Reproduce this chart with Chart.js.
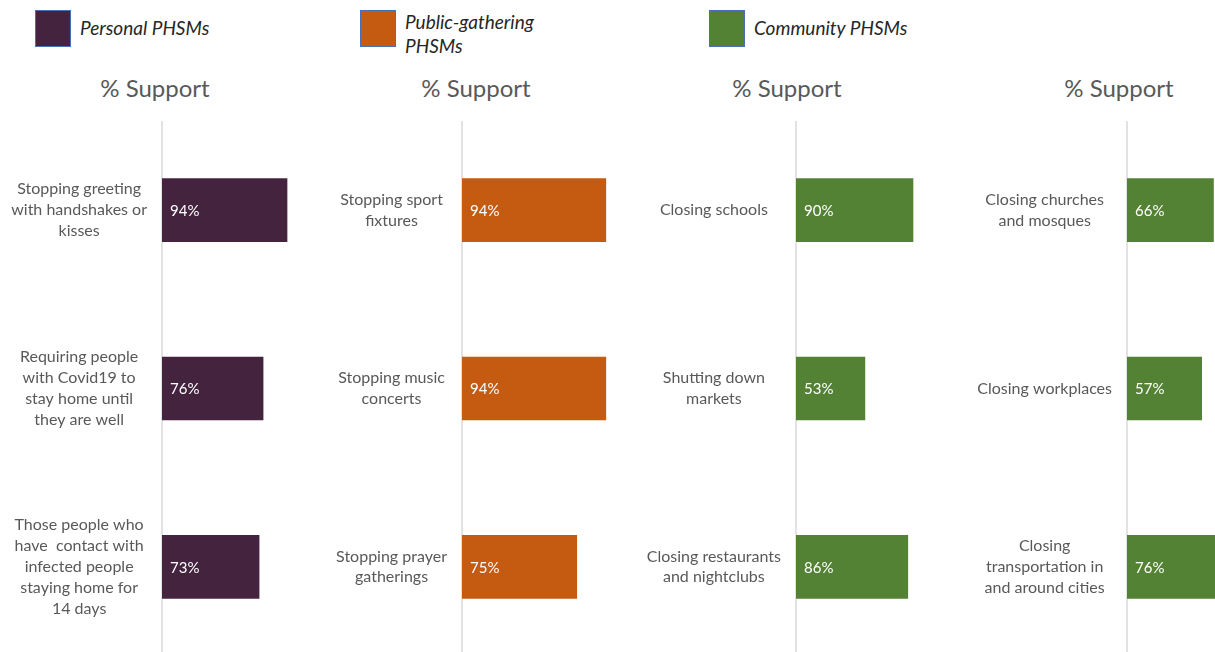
<!DOCTYPE html>
<html>
<head>
<meta charset="utf-8">
<script src="https://cdn.jsdelivr.net/npm/chart.js@4"></script>
<style>
  html, body { margin: 0; padding: 0; background: #fff; }
  body { width: 1215px; height: 652px; position: relative; overflow: hidden; font-family: Lato, "Open Sans", sans-serif; }
  .legenda { position: absolute; top: 10px; }
  .legenda .caixa { position: absolute; left: 0; top: 0; width: 36px; height: 37px; border: 1px solid #4a6fb5; box-sizing: border-box; }
  .legenda .texto { position: absolute; left: 45px; top: 6px; font-style: italic; font-size: 19px; color: #262626; line-height: 24px; white-space: nowrap; }
  .titulo { position: absolute; top: 73px; font-size: 24px; color: #595959; transform: translateX(-50%); white-space: nowrap; }
  .painel { position: absolute; top: 121px; height: 535px; }
</style>
</head>
<body>

<div class="legenda" style="left:35px"><div class="caixa" style="background:#44233f"></div><div class="texto">Personal PHSMs</div></div>
<div class="legenda" style="left:360px"><div class="caixa" style="background:#c55a11"></div><div class="texto" style="top:0px">Public-gathering<br>PHSMs</div></div>
<div class="legenda" style="left:709px"><div class="caixa" style="background:#548235"></div><div class="texto">Community PHSMs</div></div>

<div class="titulo" style="left:155px">% Support</div>
<div class="titulo" style="left:476px">% Support</div>
<div class="titulo" style="left:787px">% Support</div>
<div class="titulo" style="left:1119px">% Support</div>

<div class="painel" style="left:0px"><canvas id="pessoal" width="295" height="535"></canvas></div>
<div class="painel" style="left:300px"><canvas id="publico" width="315" height="535"></canvas></div>
<div class="painel" style="left:634px"><canvas id="comunidade1" width="292" height="535"></canvas></div>
<div class="painel" style="left:965px"><canvas id="comunidade2" width="293" height="535"></canvas></div>

<script>
// ==================== DADOS ====================
const personalLabels = [
  ["Stopping greeting", "with handshakes or", "kisses"],
  ["Requiring people", "with Covid19 to", "stay home until", "they are well"],
  ["Those people who", "have  contact with", "infected people", "staying home for", "14 days"]
];
const personalValues = [94, 76, 73];

const publicLabels = [
  ["Stopping sport", "fixtures"],
  ["Stopping music", "concerts"],
  ["Stopping prayer", "gatherings"]
];
const publicValues = [94, 94, 75];

const communityLabelsA = [
  ["Closing schools"],
  ["Shutting down", "markets"],
  ["Closing restaurants", "and nightclubs"]
];
const communityValuesA = [90, 53, 86];

const communityLabelsB = [
  ["Closing churches", "and mosques"],
  ["Closing workplaces"],
  ["Closing", "transportation in", "and around cities"]
];
const communityValuesB = [66, 57, 76];

// ==================== RÓTULOS DENTRO DAS BARRAS ====================
const rotulosBarras = {
  id: "rotulosBarras",
  afterDatasetsDraw(chart) {
    const ctx = chart.ctx;
    const meta = chart.getDatasetMeta(0);
    const valores = chart.data.datasets[0].data;
    ctx.save();
    ctx.fillStyle = "#ffffff";
    ctx.font = "15px Lato, sans-serif";
    ctx.textBaseline = "middle";
    ctx.textAlign = "left";
    meta.data.forEach((bar, i) => {
      ctx.fillText(valores[i] + "%", bar.base + 8, bar.y + 1);
    });
    ctx.restore();
  }
};

// ==================== GRÁFICO PADRÃO ====================
function criarPainel(id, labels, valores, cor) {
  const ctx = document.getElementById(id);
  if (!ctx || typeof Chart === "undefined") return;

  new Chart(ctx, {
    type: "bar",
    data: {
      labels: labels,
      datasets: [{
        data: valores,
        backgroundColor: cor,
        barThickness: 63
      }]
    },
    options: {
      indexAxis: "y",
      responsive: false,
      animation: false,
      devicePixelRatio: 1,
      layout: { padding: 0 },
      plugins: {
        legend: { display: false },
        tooltip: { enabled: false }
      },
      scales: {
        x: {
          display: false,
          min: 0,
          max: 100
        },
        y: {
          // largura fixa do eixo e sem folga em cima/embaixo
          afterFit: (scale) => {
            scale.width = 162;
            scale.paddingTop = 0;
            scale.paddingBottom = 0;
          },
          grid: { display: false, drawTicks: false },
          border: { display: true, color: "#e2e2e2", width: 2 },
          ticks: {
            crossAlign: "center",
            padding: 15,
            color: "#595959",
            font: { family: "Lato, sans-serif", size: 16, lineHeight: 1.31 }
          }
        }
      }
    },
    plugins: [rotulosBarras]
  });
}

criarPainel("pessoal", personalLabels, personalValues, "#44233f");
criarPainel("publico", publicLabels, publicValues, "#c55a11");
criarPainel("comunidade1", communityLabelsA, communityValuesA, "#548235");
criarPainel("comunidade2", communityLabelsB, communityValuesB, "#548235");
</script>
</body>
</html>
